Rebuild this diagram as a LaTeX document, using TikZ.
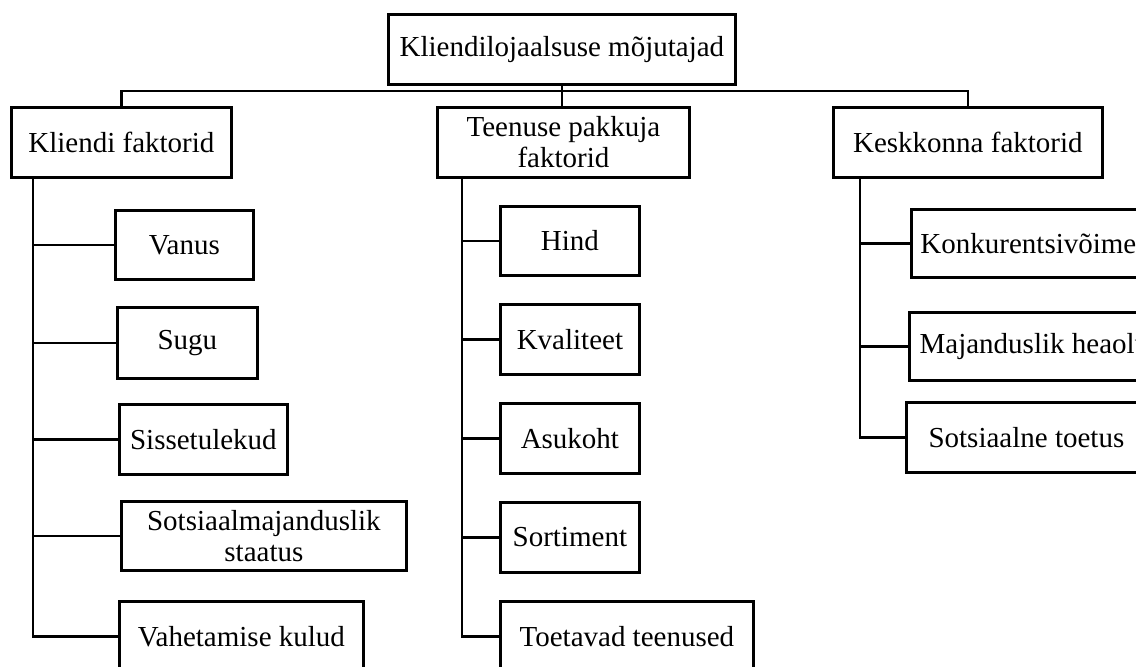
\documentclass[tikz,border=0pt]{standalone}
\usepackage{fontspec}
\setmainfont{Liberation Serif}
\usepackage{tikz}
\usetikzlibrary{positioning}
\newdimen\pxu
\pxu=0.5pt

\begin{document}
\begin{tikzpicture}[x=0.5pt, y=-0.5pt,
    box/.style={draw, line width=1.4pt, anchor=north west, align=center, inner sep=0pt,
                minimum height=70\pxu, font=\fontsize{14.5}{15.5}\selectfont},
    link/.style={line width=1.4pt}]
    \path[use as bounding box, clip] (0,0) rectangle (1136,666);
    % top level
    \node[box, minimum width=347\pxu] (top) at (387,13) {Kliendilojaalsuse mõjutajad};
    \node[box, minimum width=220\pxu] (kf) at (10,106) {Kliendi faktorid};
    \node[box, minimum width=252\pxu] (tp) at (436,106) {Teenuse pakkuja\\faktorid};
    \node[box, minimum width=269\pxu] (kk) at (832,106) {Keskkonna faktorid};
    % kliendi faktorid
    \node[box, minimum width=138\pxu, minimum height=69\pxu] (vanus) at (114,209) {Vanus};
    \node[box, minimum width=140\pxu, minimum height=71\pxu] (sugu) at (116,306) {Sugu};
    \node[box, minimum width=168\pxu] (sisse) at (118,403) {Sissetulekud};
    \node[box, minimum width=285\pxu, minimum height=69\pxu] (sotsm) at (120,500) {Sotsiaalmajanduslik\\staatus};
    \node[box, minimum width=244\pxu] (vahet) at (118,600) {Vahetamise kulud};
    % teenuse pakkuja faktorid
    \node[box, minimum width=139\pxu, minimum height=69\pxu] (hind) at (499,205) {Hind};
    \node[box, minimum width=139\pxu] (kval) at (499,303) {Kvaliteet};
    \node[box, minimum width=139\pxu] (asuk) at (499,402) {Asukoht};
    \node[box, minimum width=139\pxu] (sort) at (499,501) {Sortiment};
    \node[box, minimum width=253\pxu] (toet) at (499,600) {Toetavad teenused};
    % keskkonna faktorid
    \node[box, minimum width=234\pxu, minimum height=68\pxu] (konk) at (910,208) {Konkurentsivõime};
    \node[box, minimum width=250\pxu, minimum height=68\pxu] (maj) at (908,311) {Majanduslik heaolu};
    \node[box, minimum width=240\pxu] (sots) at (905,401) {Sotsiaalne toetus};
    % connectors
    \coordinate (bus) at (561,91);
    \draw[link] (top.south) -- (top.south |- tp.north);
    \draw[link] (kf.north) |- (bus) -| (kk.north);
    \coordinate (kfl) at ([xshift=23\pxu]kf.south west);
    \coordinate (tpl) at ([xshift=26\pxu]tp.south west);
    \coordinate (kkl) at ([xshift=28\pxu]kk.south west);
    \draw[link] (kfl) |- (vahet.west);
    \foreach \c in {vanus,sugu,sisse,sotsm}
        \draw[link] (kfl |- \c.west) -- (\c.west);
    \draw[link] (tpl) |- (toet.west);
    \foreach \c in {hind,kval,asuk,sort}
        \draw[link] (tpl |- \c.west) -- (\c.west);
    \draw[link] (kkl) |- (sots.west);
    \foreach \c in {konk,maj}
        \draw[link] (kkl |- \c.west) -- (\c.west);
\end{tikzpicture}
\end{document}
